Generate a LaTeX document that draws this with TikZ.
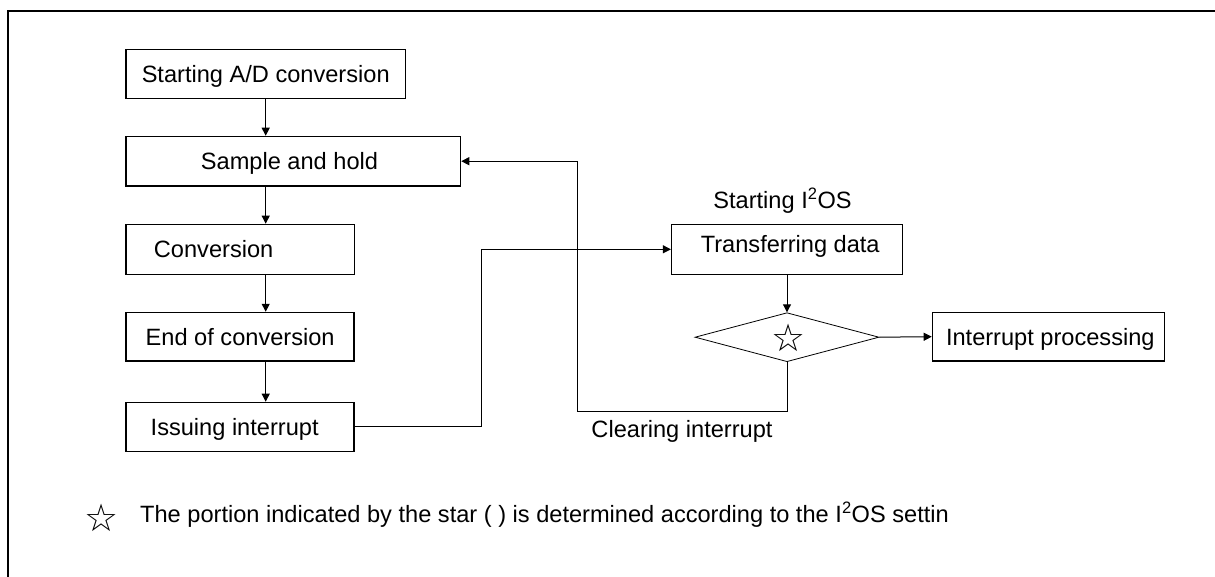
\documentclass[tikz,border=0pt]{standalone}
\usepackage{fontspec}
\setmainfont{Liberation Sans}
\newfontfamily\symfont{DejaVu Sans}
\usetikzlibrary{arrows.meta,shapes.geometric}
\begin{document}
\begin{tikzpicture}[x=1pt,y=-1pt,
  every node/.style={font=\fontsize{23.6}{28}\selectfont},
  stepbox/.style={draw, line width=1.2pt, rectangle, inner sep=0pt,
    text height=16.9pt, text depth=0pt, anchor=center},
  decision/.style={draw, line width=0.8pt, diamond, inner sep=0pt,
    minimum width=184pt, minimum height=49pt, anchor=center},
  arr/.style={line width=1pt, -{Triangle[length=8pt,width=8pt]}},
  lbl/.style={inner sep=0pt, anchor=base},
  starmark/.style={inner sep=0pt, anchor=center, font=\symfont\fontsize{38}{38}\selectfont}]
\useasboundingbox (0,0) rectangle (1215,577);

% frame (only top and left edges are visible)
\draw[line width=2pt] (8.3,600) -- (8.3,11) -- (1230,11);

% left column
\node[stepbox, minimum height=49pt] (b1) at (265.7,73.8)
  {\makebox[279.3pt][l]{\hspace*{15.7pt}Starting A/D conversion}};
\node[stepbox, minimum height=49.7pt] (b2) at (293.3,161.2)
  {\makebox[334.7pt][l]{\hspace*{75pt}Sample and hold}};
\node[stepbox, minimum height=50pt] (b3) at (240.3,249.3)
  {\makebox[228.7pt][l]{\hspace*{28pt}Conversion}};
\node[stepbox, minimum height=48.7pt] (b4) at (240,336.7)
  {\makebox[228pt][l]{\hspace*{19.7pt}End of conversion}};
\node[stepbox, minimum height=49pt] (b5) at (240,426.8)
  {\makebox[228pt][l]{\hspace*{24.7pt}Issuing interrupt}};

% right part
\node[stepbox, minimum height=50pt] (tb) at (787,249.3)
  {\makebox[231pt][l]{\hspace*{29.3pt}\raisebox{4.8pt}{Transferring data}}};
\node[decision] (dia) at (787,337.2) {};
\node[starmark] (dstar) at (789,338) {☆};
\node[stepbox, minimum height=48.7pt] (ip) at (1048.3,336.7)
  {\makebox[232pt][l]{\hspace*{13.7pt}Interrupt processing}};

% labels
\node[lbl] (lstart) at (782.5,209) {Starting I\textsuperscript{2}OS};
\node[lbl] (lclear) at (682,437.7) {Clearing interrupt};

% helper coordinates
\coordinate (spine) at (265.7,0);
\coordinate (j1) at (481.5,249.3);
\coordinate (c1) at (577.7,411);

% connectors
\draw[arr] (b1.south) -- (spine |- b2.north);
\draw[arr] (spine |- b2.south) -- (spine |- b3.north);
\draw[arr] (spine |- b3.south) -- (spine |- b4.north);
\draw[arr] (spine |- b4.south) -- (spine |- b5.north);
\draw[arr] (b5.east) -| (j1) -- (tb.west);
\draw[arr] (tb.south) -- (dia.north);
\draw[arr] (dia.east) -- (ip.west);
\draw[arr] (dia.south) |- (c1) |- (b2.east);

% footnote
\node[starmark] (fstar) at (101.5,517.5) {☆};
\node[lbl, anchor=base west] (fnote) at (140,522.7)
  {The portion indicated by the star ( ) is determined according to the I\textsuperscript{2}OS settin};
\end{tikzpicture}
\end{document}
